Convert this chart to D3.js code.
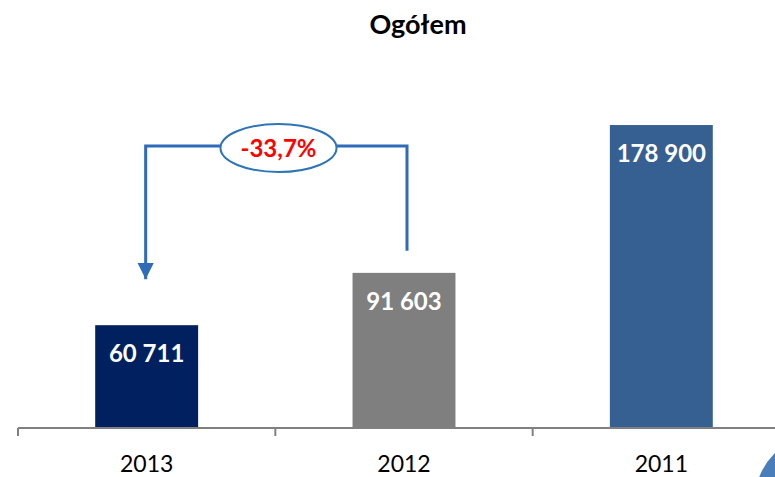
<!DOCTYPE html>
<html>
<head>
<meta charset="utf-8">
<script src="https://cdn.jsdelivr.net/npm/d3@7"></script>
<style>
  body { margin: 0; background: #fff; }
  svg { display: block; font-family: Lato, "Open Sans", sans-serif; }
</style>
</head>
<body>
<div class="app"></div>
<script>
'use strict'

var width = 775;
var height = 477;

// dane
var years = ["2013", "2012", "2011"];
var values = [60711, 91603, 178900];
var labels = ["60 711", "91 603", "178 900"];
var colors = ["#002060", "#7f7f7f", "#376092"];
var change = "-33,7%";

var svg = d3.select(".app")
  .append("svg")
  .attr("width", width)
  .attr("height", height);

var baseY = 428;

var scaleX = d3.scaleBand()
  .domain(years)
  .range([18, 790])
  .paddingInner(0.6)
  .paddingOuter(0.3);

var scaleY = d3.scaleLinear()
  .domain([0, 200000])
  .range([baseY, 89.3]);

// tytul
svg.append("text")
  .attr("x", 418)
  .attr("y", 34)
  .attr("text-anchor", "middle")
  .attr("font-weight", "bold")
  .attr("font-size", 27)
  .text("Ogółem");

// slupki
svg.selectAll("rect.bar")
  .data(years)
  .enter()
  .append("rect")
  .attr("class", "bar")
  .attr("x", function(d) { return scaleX(d); })
  .attr("y", function(d, i) { return scaleY(values[i]); })
  .attr("width", scaleX.bandwidth())
  .attr("height", function(d, i) { return baseY - scaleY(values[i]); })
  .attr("fill", function(d, i) { return colors[i]; });

// etykiety wartosci
svg.selectAll("text.val")
  .data(years)
  .enter()
  .append("text")
  .attr("class", "val")
  .attr("x", function(d) { return scaleX(d) + scaleX.bandwidth() / 2; })
  .attr("y", function(d, i) { return scaleY(values[i]) + 37; })
  .attr("text-anchor", "middle")
  .attr("font-weight", "bold")
  .attr("font-size", 24)
  .attr("fill", "#fff")
  .text(function(d, i) { return labels[i]; });

// os X
var step = scaleX.step();
var x0 = scaleX.range()[0];
svg.append("line")
  .attr("x1", x0).attr("x2", 790)
  .attr("y1", baseY).attr("y2", baseY)
  .attr("stroke", "#808080")
  .attr("stroke-width", 2);

svg.selectAll("line.tick")
  .data(d3.range(years.length + 1))
  .enter()
  .append("line")
  .attr("class", "tick")
  .attr("x1", function(i) { return x0 + i * step; })
  .attr("x2", function(i) { return x0 + i * step; })
  .attr("y1", baseY)
  .attr("y2", baseY + 8)
  .attr("stroke", "#808080")
  .attr("stroke-width", 2);

svg.selectAll("text.cat")
  .data(years)
  .enter()
  .append("text")
  .attr("class", "cat")
  .attr("x", function(d) { return scaleX(d) + scaleX.bandwidth() / 2; })
  .attr("y", 472)
  .attr("text-anchor", "middle")
  .attr("font-size", 23)
  .attr("fill", "#000")
  .text(function(d) { return d; });

// strzalka zmiany 2012 -> 2013
var xFrom = scaleX("2012") + scaleX.bandwidth() / 2 + 3;
var xTo = scaleX("2013") + scaleX.bandwidth() / 2 - 1;
var yTop = 146;
var arrowColor = "#2e6bb8";

svg.append("defs")
  .append("marker")
  .attr("id", "arrow")
  .attr("viewBox", "0 0 10 10")
  .attr("refX", 10)
  .attr("refY", 5)
  .attr("markerWidth", 5.5)
  .attr("markerHeight", 5.5)
  .attr("orient", "auto")
  .append("path")
  .attr("d", "M0,0L10,5L0,10Z")
  .attr("fill", arrowColor);

svg.append("path")
  .attr("d", d3.line()([
    [xFrom, scaleY(values[1]) - 22],
    [xFrom, yTop],
    [xTo, yTop],
    [xTo, scaleY(values[0]) - 46]
  ]))
  .attr("fill", "none")
  .attr("stroke", arrowColor)
  .attr("stroke-width", 3)
  .attr("marker-end", "url(#arrow)");

svg.append("ellipse")
  .attr("cx", 278.5)
  .attr("cy", 148)
  .attr("rx", 58)
  .attr("ry", 24)
  .attr("fill", "#fff")
  .attr("stroke", "#2e75b6")
  .attr("stroke-width", 2);

svg.append("text")
  .attr("x", 278.5)
  .attr("y", 157)
  .attr("text-anchor", "middle")
  .attr("font-weight", "bold")
  .attr("font-size", 24)
  .attr("fill", "#ff0000")
  .text(change);

// dekoracja w rogu
svg.append("circle")
  .attr("cx", 820)
  .attr("cy", 500)
  .attr("r", 65)
  .attr("fill", "#4a7ebb");
</script>
</body>
</html>
